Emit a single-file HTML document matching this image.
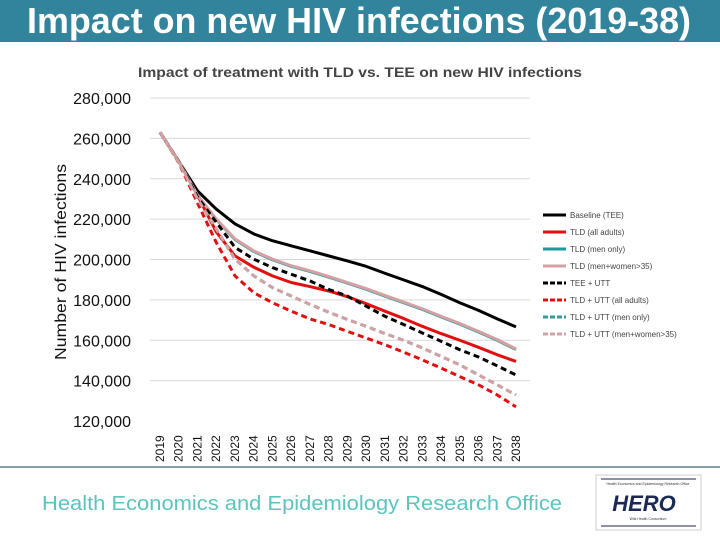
<!DOCTYPE html>
<html><head><meta charset="utf-8"><style>
html,body{margin:0;padding:0;background:#fff;}
svg{display:block;font-family:"Liberation Sans",sans-serif;}
</style></head><body>
<svg id="chart" width="720" height="540" viewBox="0 0 720 540">
<rect x="0" y="0" width="720" height="42" fill="#31849b"/>
<text x="359" y="33" text-anchor="middle" font-size="36" font-weight="bold" fill="#fff" textLength="664" lengthAdjust="spacingAndGlyphs">Impact on new HIV infections (2019-38)</text>
<text x="360" y="77" text-anchor="middle" font-size="14" font-weight="bold" fill="#444" textLength="444" lengthAdjust="spacingAndGlyphs">Impact of treatment with TLD vs. TEE on new HIV infections</text>
<text transform="translate(66,262) rotate(-90)" text-anchor="middle" font-size="16" fill="#111" textLength="196" lengthAdjust="spacingAndGlyphs">Number of HIV infections</text>
<g id="grid"></g><g id="yticks"></g><g id="xticks"></g><g id="series"></g><g id="legend"></g>
<line x1="0" y1="467" x2="720" y2="467" stroke="#5e7f88" stroke-width="1.5"/>
<text x="42" y="510" font-size="20" fill="#5bc4bf" textLength="520" lengthAdjust="spacingAndGlyphs">Health Economics and Epidemiology Research Office</text>
<g>
<rect x="596" y="475" width="105" height="55" fill="#fff" stroke="#ccc"/>
<line x1="601" y1="479" x2="696" y2="479" stroke="#1a2a4a" stroke-width="1"/>
<text x="648" y="485" text-anchor="middle" font-size="3.5" fill="#333">Health Economics and Epidemiology Research Office</text>
<text x="644" y="511" text-anchor="middle" font-size="22" font-weight="bold" font-style="italic" fill="#1a2a55">HERO</text>
<text x="648" y="520" text-anchor="middle" font-size="3.5" fill="#333">Wits Health Consortium</text>
<line x1="601" y1="526" x2="696" y2="526" stroke="#1a2a4a" stroke-width="1"/>
</g>
</svg>
<script>
const years=[2019,2020,2021,2022,2023,2024,2025,2026,2027,2028,2029,2030,2031,2032,2033,2034,2035,2036,2037,2038];
const yTicks=[120000,140000,160000,180000,200000,220000,240000,260000,280000];
const seriesNames=["Baseline (TEE)","TLD (all adults)","TLD (men only)","TLD (men+women>35)","TEE + UTT","TLD + UTT (all adults)","TLD + UTT (men only)","TLD + UTT (men+women>35)"];
const baseline=[263000,248600,234000,225000,217700,212700,209300,206800,204300,201800,199300,196600,193200,189900,186600,182700,178600,174800,170600,166600];
const tldAll=[263000,248600,231800,213700,201800,196200,191900,188600,186600,184400,181600,178100,174400,170800,166900,163300,160000,156500,152800,149500];
const tldMen=[263000,248600,231800,219800,209900,204000,199900,196600,194100,191300,188300,185300,181900,178600,175300,171600,168000,164100,160000,155400];
const tldMenWomen=[263000,248600,231800,220100,210200,204300,200200,196900,194400,191600,188600,185600,182200,178900,175600,171900,168300,164400,160300,155700];
const teeUtt=[263000,248600,231000,218500,206000,200200,196000,192700,189400,185200,181900,176900,171900,167800,163600,159500,155300,151700,147300,142800];
const tldUttAll=[263000,248000,228000,208500,191900,183600,178600,174400,170600,167800,164400,161100,157800,154100,150300,146200,142000,137900,132900,127000];
const tldUttMen=[263000,248300,230000,215200,200200,191900,186100,181900,177800,173900,170300,166900,163300,160000,156200,152000,147800,142800,137900,132900];
const tldUttMenWomen=[263000,248300,230000,215200,200200,191900,186100,181900,177800,173900,170300,166900,163300,160000,156200,152000,147800,142800,137900,132900];

const NS="http://www.w3.org/2000/svg";
const X0=160,X1=516,Y280=98,Y120=421;
const xs=i=>X0+(X1-X0)*i/(years.length-1);
const ys=v=>Y120-(v-120000)*(Y120-Y280)/160000;
function mk(tag,attrs,parent){const e=document.createElementNS(NS,tag);for(const k in attrs)e.setAttribute(k,attrs[k]);parent.appendChild(e);return e;}
const grid=document.getElementById('grid'),yt=document.getElementById('yticks'),xt=document.getElementById('xticks'),sg=document.getElementById('series'),lg=document.getElementById('legend');
yTicks.forEach(v=>{
  if(v>120000){const l=mk('line',{x1:150,x2:530,y1:ys(v),y2:ys(v),stroke:'#d9d9d9','stroke-width':1},grid);
  
  }
  const t=mk('text',{x:131,y:ys(v)+6,'text-anchor':'end','font-size':16,fill:'#111'},yt);
  t.textContent=v.toLocaleString('en-US');
  
  
});
years.forEach((y,i)=>{
  const t=mk('text',{transform:`translate(${xs(i)+4},462) rotate(-90)`,'font-size':12,fill:'#111'},xt);
  t.textContent=y;
  
  
});
const styles=[
 {d:baseline,c:'#000',dash:''},
 {d:tldAll,c:'#e01010',dash:''},
 {d:tldMen,c:'#1a9a98',dash:''},
 {d:tldMenWomen,c:'#d4a0a4',dash:''},
 {d:teeUtt,c:'#000',dash:'6 4'},
 {d:tldUttAll,c:'#e01010',dash:'6 4'},
 {d:tldUttMen,c:'#3a9a98',dash:'6 4'},
 {d:tldUttMenWomen,c:'#d4a0a4',dash:'6 4'}];
styles.forEach((s,k)=>{
  const p=mk('polyline',{points:s.d.map((v,i)=>xs(i)+','+ys(v)).join(' '),fill:'none',stroke:s.c,'stroke-width':3,'stroke-dasharray':s.dash,'stroke-linejoin':'round'},sg);
  
  
  const ly=215+k*17;
  const g=mk('g',{},lg);
  
  
  mk('line',{x1:543,x2:566,y1:ly,y2:ly,stroke:s.c,'stroke-width':3,'stroke-dasharray':s.dash?'5 2':''},g);
  const t=mk('text',{x:570,y:ly+3,'font-size':8,fill:'#444'},g);
  t.textContent=seriesNames[k];
});
</script>
</body></html>
